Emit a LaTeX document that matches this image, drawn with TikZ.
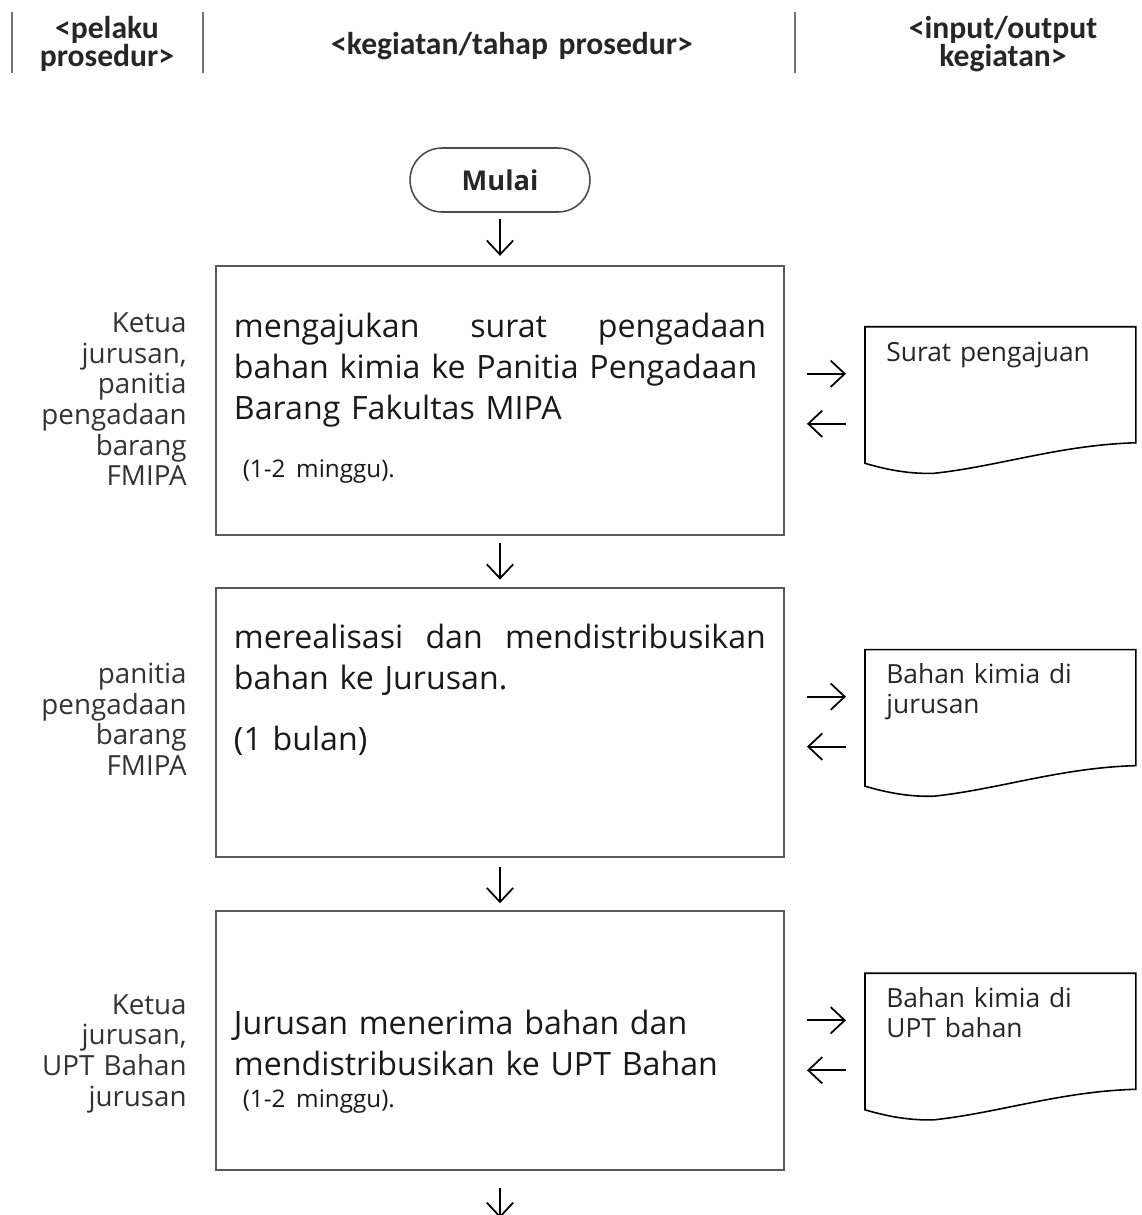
\documentclass[tikz,border=0pt]{standalone}
\usepackage{fontspec}
\setmainfont{Open Sans}
\newfontfamily\headfont{Carlito}
\usetikzlibrary{positioning, calc, arrows.meta}
\hyphenpenalty=10000
\tikzset{%
  flow/.style={-{Straight Barb[length=8pt,width=15pt]}, line width=1pt}, % the plain open arrows
  sepline/.style={draw=black!55, line width=1pt},
  head/.style={anchor=base, text width=150pt, align=center, inner sep=0pt,
    font=\headfont\bfseries\fontsize{18}{16.5}\selectfont, text=black!85},
  terminal/.style={draw=black!70, line width=0.9pt, rounded corners=18.2pt,
    minimum width=102.4pt, minimum height=36.4pt, text=black!85,
    font=\bfseries\fontsize{15.5}{18}\selectfont},
  prosbox/.style={draw=black!65, line width=1.1pt, minimum width=323.3pt,
    text width=302.8pt, inner xsep=10.2pt, inner ysep=0pt, align=left,
    text=black!90, font=\fontsize{18.3}{23.3}\selectfont},
  actor/.style={anchor=base east, text width=102pt, align=right, inner sep=0pt,
    text=black!80, font=\fontsize{15.8}{17.4}\selectfont},
  docnode/.style={anchor=north west, text width=129.8pt, inner xsep=12pt, inner ysep=0pt,
    text height=19.3pt, text depth=63.7pt, align=left,
    text=black!85, font=\fontsize{15}{17}\selectfont},
  docline/.style={draw, line width=0.9pt}
}
\newcommand{\smalltime}{\fontsize{13.8}{17}\selectfont}

\begin{document}
\begin{tikzpicture}[x=0.02cm, y=-0.02cm]
\useasboundingbox (0,0) rectangle (1142,1215);

% column heads
\draw[sepline] (12,12) -- (12,73);
\draw[sepline] (203,12) -- (203,73);
\draw[sepline] (795,12) -- (795,73);
\node[head] (h0) at (107,38) {<pelaku\\prosedur>};
\node[head, text width=250pt] (h1) at (512,54) {<kegiatan/tahap prosedur>};
\node[head] (h2) at (1003,38) {<input/output\\kegiatan>};

\node[terminal] (mulai) at (500,180) {Mulai};

\node[prosbox, below=29.6pt of mulai, text height=41pt, text depth=112.1pt] (box1)
  {mengajukan\hfill surat\hfill pengadaan\\
   bahan kimia ke Panitia Pengadaan\\
   Barang Fakultas MIPA\\[9.7pt]
   {\smalltime\hspace*{5pt}(1-2 minggu).}};
\node[prosbox, below=29pt of box1, text height=34.7pt, text depth=118.4pt] (box2)
  {merealisasi\hfill dan\hfill mendistribusikan\\
   bahan ke Jurusan.\\[11.4pt]
   (1 bulan)};
\node[prosbox, below=30pt of box2, text height=70pt, text depth=77.4pt] (box3)
  {Jurusan menerima bahan dan\\
   mendistribusikan ke UPT Bahan\\[-5.1pt]
   {\smalltime\hspace*{5pt}(1-2 minggu).}};

% who does it
\node[actor] (a1) at ($(box1.north west)+(-28,68)$)
  {Ketua\\jurusan,\\panitia\\pengadaan\\barang\\FMIPA};
\node[actor] (a2) at ($(box2.north west)+(-28,97)$)
  {panitia\\pengadaan\\barang\\FMIPA};
\node[actor] (a3) at ($(box3.north west)+(-28,104)$)
  {Ketua\\jurusan,\\UPT Bahan\\jurusan};

% documents
\node[docnode] (doc1) at ($(box1.north east)+(80,62)$) {Surat pengajuan};
\node[docnode] (doc2) at ($(box2.north east)+(80,63)$) {Bahan kimia di\\jurusan};
\node[docnode] (doc3) at ($(box3.north east)+(80,63)$) {Bahan kimia di\\UPT bahan};

\draw[docline] (doc1.north west) -- (doc1.north east) -- ++(0,116)
  .. controls +(-75,2) and +(65,-7) .. ($(doc1.south west)+(69,0)$)
  .. controls +(-30,1) and +(14,4) .. ($(doc1.south west)+(0,-10)$) -- cycle;
\draw[docline] (doc2.north west) -- (doc2.north east) -- ++(0,116)
  .. controls +(-75,2) and +(65,-7) .. ($(doc2.south west)+(69,0)$)
  .. controls +(-30,1) and +(14,4) .. ($(doc2.south west)+(0,-10)$) -- cycle;
\draw[docline] (doc3.north west) -- (doc3.north east) -- ++(0,116)
  .. controls +(-75,2) and +(65,-7) .. ($(doc3.south west)+(69,0)$)
  .. controls +(-30,1) and +(14,4) .. ($(doc3.south west)+(0,-10)$) -- cycle;

% main flow
\coordinate (next) at (500,1218);
\draw[flow, shorten <=3.4pt, shorten >=5.1pt] (mulai.south) -- (mulai.south |- box1.north);
\draw[flow, shorten <=4pt, shorten >=4pt] (box1.south) -- (box2.north);
\draw[flow, shorten <=5.1pt, shorten >=4pt] (box2.south) -- (box3.north);
\draw[flow, shorten <=9.7pt] (box3.south) -- (next);

% in and out of the documents
\path (doc1.north west) ++(0,47) coordinate (in1) ++(0,50) coordinate (out1);
\path (doc2.north west) ++(0,47) coordinate (in2) ++(0,50) coordinate (out2);
\path (doc3.north west) ++(0,47) coordinate (in3) ++(0,50) coordinate (out3);
\draw[flow, shorten <=12.5pt, shorten >=10.8pt] (box1.east |- in1) -- (in1);
\draw[flow, shorten <=10.8pt, shorten >=12.5pt] (out1) -- (box1.east |- out1);
\draw[flow, shorten <=12.5pt, shorten >=10.8pt] (box2.east |- in2) -- (in2);
\draw[flow, shorten <=10.8pt, shorten >=12.5pt] (out2) -- (box2.east |- out2);
\draw[flow, shorten <=12.5pt, shorten >=10.8pt] (box3.east |- in3) -- (in3);
\draw[flow, shorten <=10.8pt, shorten >=12.5pt] (out3) -- (box3.east |- out3);

\end{tikzpicture}
\end{document}
